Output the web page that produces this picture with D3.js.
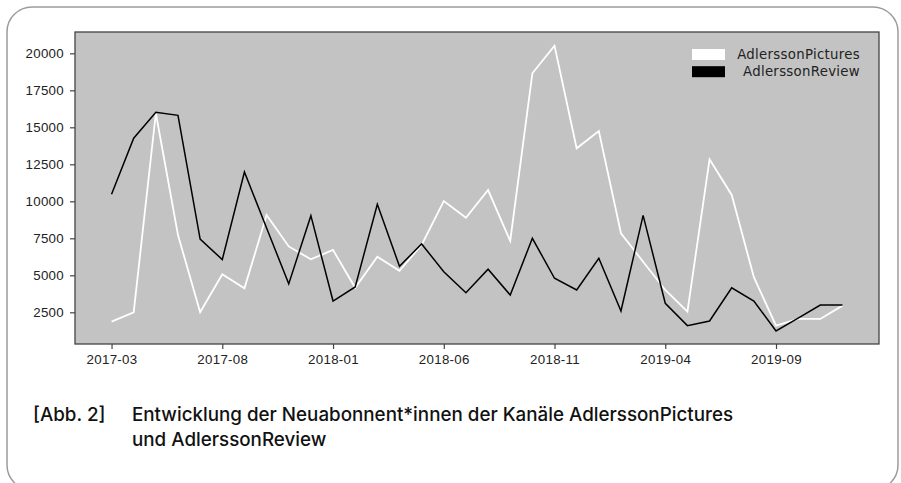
<!DOCTYPE html>
<html>
<head>
    <meta charset="utf-8">
    <title>Neuabonnent*innen AdlerssonPictures / AdlerssonReview</title>
    <script src="https://d3js.org/d3.v7.min.js"></script>
    <style>
        html, body {margin: 0; padding: 0; background: #fff;}
        svg {display: block; font-family: 'DejaVu Sans', 'Liberation Sans', Arial, sans-serif;}
        .tick text {font-size: 13.3px; letter-spacing: 0.3px; fill: #222;}
        .tick line {stroke: #444;}
        .caption {font-family: Inter, 'Liberation Sans', Arial, sans-serif; font-size: 18.8px; font-weight: 500; fill: #111;}
    </style>
</head>
<body>
<div id="vis"></div>
<script>

// monthly values, 2017-03 .. 2019-12
var months = ["2017-03","2017-04","2017-05","2017-06","2017-07","2017-08","2017-09","2017-10","2017-11","2017-12",
              "2018-01","2018-02","2018-03","2018-04","2018-05","2018-06","2018-07","2018-08","2018-09","2018-10",
              "2018-11","2018-12","2019-01","2019-02","2019-03","2019-04","2019-05","2019-06","2019-07","2019-08",
              "2019-09","2019-10","2019-11","2019-12"];
var pictures = [1870, 2500, 15950, 7720, 2500, 5070, 4120, 9070, 6950, 6080,
                6710, 4160, 6260, 5310, 7050, 10020, 8890, 10760, 7320, 18650,
                20510, 13580, 14750, 7840, 5920, 4010, 2540, 12840, 10430, 4870,
                1600, 2050, 2050, 2950];
var review = [10470, 14260, 16010, 15810, 7450, 6060, 11980, 8200, 4420, 9030,
              3260, 4210, 9800, 5610, 7120, 5240, 3820, 5410, 3670, 7500,
              4800, 4010, 6150, 2590, 9050, 3110, 1600, 1910, 4160, 3260,
              1240, 2100, 2990, 2990];
var seriesNames = ["AdlerssonPictures", "AdlerssonReview"];
var seriesColors = ["#ffffff", "#000000"];
var yTicks = [2500, 5000, 7500, 10000, 12500, 15000, 17500, 20000];
var xTicks = ["2017-03","2017-08","2018-01","2018-06","2018-11","2019-04","2019-09"];

var width = 901, height = 483;
var margin = {top: 32, left: 75, right: 22, bottom: 139};
var w = width - margin.left - margin.right;
var h = height - margin.top - margin.bottom;

var svg = d3.select('#vis').append('svg')
    .attr('width', width)
    .attr('height', height);

// rounded card around everything
svg.append('rect')
    .attr('x', 7).attr('y', 7)
    .attr('width', 891).attr('height', 483)
    .attr('rx', 25).attr('ry', 25)
    .attr('fill', 'none')
    .attr('stroke', '#9c9c9c')
    .attr('stroke-width', 1.5);

var g = svg.append('g')
    .attr('transform', 'translate(' + margin.left + ',' + margin.top + ')');

// 5% padding on both sides like the original plot
var pad = (months.length - 1) * 0.05;
var x = d3.scaleLinear().domain([-pad, months.length - 1 + pad]).range([0, w]);
var y = d3.scaleLinear().domain([358, 21440]).range([h, 0]);

g.append('rect')
    .attr('width', w).attr('height', h)
    .attr('fill', '#c3c3c3');

var xAxis = g.append('g')
    .attr('transform', 'translate(0,' + h + ')')
    .call(d3.axisBottom(x)
        .tickValues(xTicks.map(function(m) {return months.indexOf(m);}))
        .tickFormat(function(i) {return months[i];})
        .tickSize(5).tickPadding(6));
var yAxis = g.append('g')
    .call(d3.axisLeft(y).tickValues(yTicks).tickFormat(d3.format('d'))
        .tickSize(5).tickPadding(6));
xAxis.select('.domain').remove();
yAxis.select('.domain').remove();
g.selectAll('.tick line').attr('stroke-width', 1.2);

var line = d3.line()
    .x(function(d, i) {return x(i);})
    .y(function(d) {return y(d);});

[pictures, review].forEach(function(vals, k) {
    g.append('path')
        .datum(vals)
        .attr('d', line)
        .attr('fill', 'none')
        .attr('stroke', seriesColors[k])
        .attr('stroke-width', k == 0 ? 1.8 : 1.5)
        .attr('stroke-linejoin', 'miter');
});

// plot frame
g.append('rect')
    .attr('width', w).attr('height', h)
    .attr('fill', 'none')
    .attr('stroke', '#444')
    .attr('stroke-width', 1.3);

// legend, text right aligned
var legend = g.selectAll('.leg').data(seriesNames).enter().append('g')
    .attr('class', 'leg')
    .attr('transform', function(d, i) {return 'translate(0,' + (22.5 + i * 17.2) + ')';});
legend.append('rect')
    .attr('x', 617).attr('y', -5.5)
    .attr('width', 33).attr('height', 11)
    .attr('fill', function(d, i) {return seriesColors[i];});
legend.append('text')
    .attr('x', 785).attr('dy', '0.35em')
    .attr('text-anchor', 'end')
    .style('font-size', '13.3px')
    .style('letter-spacing', '0.3px')
    .attr('fill', '#222')
    .text(function(d) {return d;});

// caption
var cap = svg.append('g');
cap.append('text').attr('class', 'caption').attr('x', 33).attr('y', 421).text('[Abb. 2]');
cap.append('text').attr('class', 'caption').attr('x', 132).attr('y', 421)
    .text('Entwicklung der Neuabonnent*innen der Kanäle AdlerssonPictures');
cap.append('text').attr('class', 'caption').attr('x', 132).attr('y', 446)
    .text('und AdlerssonReview');

</script>
</body>
</html>
